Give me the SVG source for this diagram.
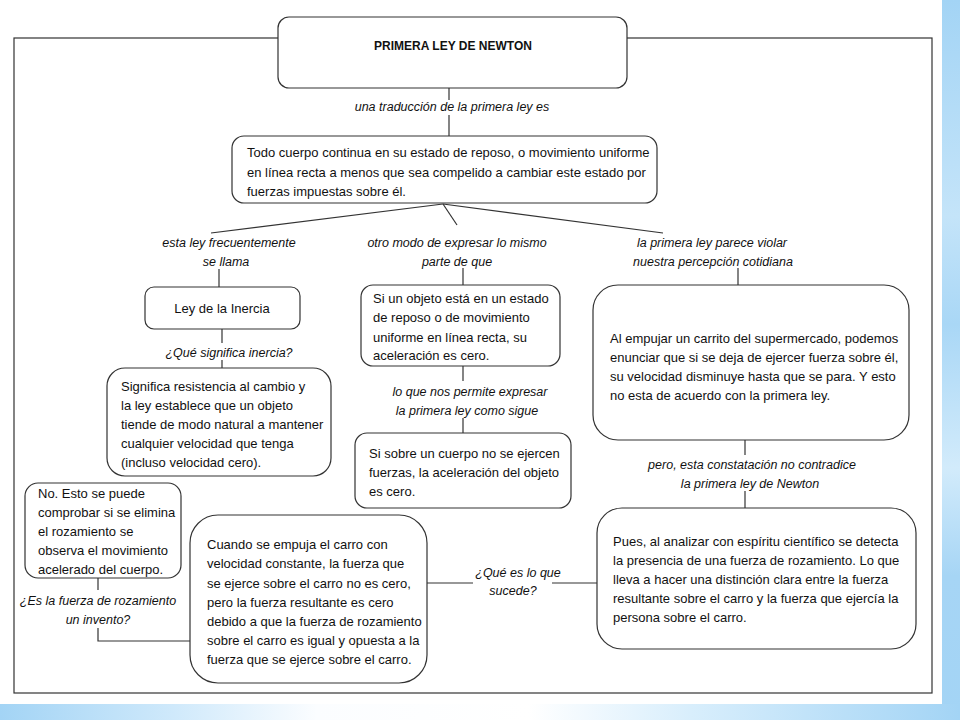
<svg xmlns="http://www.w3.org/2000/svg" width="960" height="720" viewBox="0 0 960 720">
<defs>
<linearGradient id="gR" x1="0" y1="0" x2="0" y2="1">
<stop offset="0" stop-color="#a3d4f5"/>
<stop offset="0.3" stop-color="#c4e4f9"/>
<stop offset="0.45" stop-color="#a9d7f6"/>
<stop offset="0.65" stop-color="#d2ebfb"/>
<stop offset="0.8" stop-color="#a6d5f5"/>
<stop offset="1" stop-color="#a3d4f5"/>
</linearGradient>
<linearGradient id="gB" x1="0" y1="0" x2="1" y2="0">
<stop offset="0" stop-color="#a3d4f5"/>
<stop offset="0.18" stop-color="#cfe9fb"/>
<stop offset="0.33" stop-color="#fbfdff"/>
<stop offset="0.55" stop-color="#ffffff"/>
<stop offset="0.72" stop-color="#d8eefc"/>
<stop offset="1" stop-color="#a3d4f5"/>
</linearGradient>
</defs>
<style>
.box{fill:#fff;stroke:#333;stroke-width:1.2}
.ln{fill:none;stroke:#333;stroke-width:1.2}
.t{font-family:"Liberation Sans",Arial,sans-serif;font-size:13px;fill:#111}
.l{font-family:"Liberation Sans",Arial,sans-serif;font-size:12.5px;font-style:italic;fill:#111;text-anchor:middle}
.h{font-family:"Liberation Sans",Arial,sans-serif;font-size:12px;font-weight:bold;fill:#111;text-anchor:middle}
.c{text-anchor:middle}
</style>
<rect x="0" y="0" width="960" height="720" fill="#fff"/>
<rect x="942" y="0" width="18" height="720" fill="url(#gR)"/>
<rect x="0" y="704" width="960" height="16" fill="url(#gB)"/>
<rect x="14" y="38" width="918" height="655" class="ln"/>

<g id="connectors">
<line x1="449" y1="88" x2="449" y2="100" class="ln"/>
<line x1="449" y1="115" x2="449" y2="136" class="ln"/>
<line x1="443" y1="204" x2="211" y2="233" class="ln"/>
<line x1="443" y1="204" x2="457" y2="225" class="ln"/>
<line x1="443" y1="204" x2="663" y2="233" class="ln"/>
<line x1="219" y1="269" x2="219" y2="287" class="ln"/>
<line x1="222" y1="329" x2="222" y2="343" class="ln"/>
<line x1="222" y1="360" x2="222" y2="368" class="ln"/>
<line x1="463" y1="268" x2="463" y2="285" class="ln"/>
<line x1="463" y1="366" x2="463" y2="381" class="ln"/>
<line x1="463" y1="418" x2="463" y2="433" class="ln"/>
<line x1="738" y1="268" x2="738" y2="285" class="ln"/>
<line x1="745" y1="440" x2="745" y2="455" class="ln"/>
<line x1="745" y1="491" x2="745" y2="508" class="ln"/>
<line x1="98" y1="578" x2="98" y2="590" class="ln"/>
<polyline points="98,628 98,641 190,641" class="ln"/>
<line x1="427" y1="583" x2="473" y2="583" class="ln"/>
<line x1="552" y1="583" x2="597" y2="583" class="ln"/>
<text class="l" x="452" y="111">una traducción de la primera ley es</text>
<text class="l" x="229" y="247">esta ley frecuentemente</text>
<text class="l" x="226" y="266">se llama</text>
<text class="l" x="457" y="247">otro modo de expresar lo mismo</text>
<text class="l" x="457" y="266">parte de que</text>
<text class="l" x="712" y="247">la primera ley parece violar</text>
<text class="l" x="713" y="266">nuestra percepción cotidiana</text>
<text class="l" x="229" y="357">¿Qué significa inercia?</text>
<text class="l" x="470" y="396">lo que nos permite expresar</text>
<text class="l" x="467" y="415">la primera ley como sigue</text>
<text class="l" x="752" y="469">pero, esta constatación no contradice</text>
<text class="l" x="750" y="488">la primera ley de Newton</text>
<text class="l" x="98" y="605">¿Es la fuerza de rozamiento</text>
<text class="l" x="98" y="624">un invento?</text>
<text class="l" x="518" y="577">¿Qué es lo que</text>
<text class="l" x="513" y="595">sucede?</text>
</g>

<g id="n-title">
<rect x="278" y="17" width="349" height="71" rx="11" class="box"/>
<text class="h" x="453" y="50">PRIMERA LEY DE NEWTON</text>
</g>

<g id="n-todo">
<rect x="232" y="136" width="425" height="67" rx="12" class="box"/>
<text class="t" x="247" y="157">Todo cuerpo continua en su estado de reposo, o movimiento uniforme</text>
<text class="t" x="247" y="177">en línea recta a menos que sea compelido a cambiar este estado  por</text>
<text class="t" x="247" y="196">fuerzas impuestas sobre él.</text>
</g>

<g id="n-ley">
<rect x="145" y="287" width="155" height="42" rx="9" class="box"/>
<text class="t c" x="222" y="313">Ley de la Inercia</text>
</g>

<g id="n-significa">
<rect x="107" y="368" width="224" height="108" rx="18" class="box"/>
<text class="t" x="121" y="391">Significa resistencia al cambio y</text>
<text class="t" x="121" y="410">la ley establece que un objeto</text>
<text class="t" x="121" y="429">tiende de modo natural a mantener</text>
<text class="t" x="121" y="448">cualquier velocidad que tenga</text>
<text class="t" x="121" y="467">(incluso velocidad cero).</text>
</g>

<g id="n-siun">
<rect x="361" y="285" width="199" height="81" rx="12" class="box"/>
<text class="t" x="373" y="303">Si un objeto está en un estado</text>
<text class="t" x="373" y="322">de reposo o de movimiento</text>
<text class="t" x="373" y="342">uniforme en línea recta, su</text>
<text class="t" x="373" y="360">aceleración es cero.</text>
</g>

<g id="n-sisobre">
<rect x="355" y="433" width="216" height="75" rx="12" class="box"/>
<text class="t" x="369" y="458">Si sobre un cuerpo no se ejercen</text>
<text class="t" x="369" y="477">fuerzas, la aceleración del objeto</text>
<text class="t" x="369" y="496">es cero.</text>
</g>

<g id="n-empujar">
<rect x="593" y="285" width="316" height="155" rx="25" class="box"/>
<text class="t" x="610" y="343">Al empujar un carrito del supermercado, podemos</text>
<text class="t" x="610" y="362">enunciar que si se deja de ejercer fuerza sobre él,</text>
<text class="t" x="610" y="381">su velocidad disminuye hasta que se para. Y esto</text>
<text class="t" x="610" y="400">no esta de acuerdo con la primera ley.</text>
</g>

<g id="n-pues">
<rect x="597" y="508" width="319" height="141" rx="25" class="box"/>
<text class="t" x="613" y="546">Pues, al analizar con espíritu científico se detecta</text>
<text class="t" x="613" y="565">la presencia de una fuerza de rozamiento. Lo que</text>
<text class="t" x="613" y="584">lleva a hacer una distinción clara entre la fuerza</text>
<text class="t" x="613" y="603">resultante sobre el carro y la fuerza que ejercía la</text>
<text class="t" x="613" y="622">persona  sobre el carro.</text>
</g>

<g id="n-no">
<rect x="25" y="483" width="156" height="95" rx="13" class="box"/>
<text class="t" x="38" y="498">No. Esto se puede</text>
<text class="t" x="38" y="517">comprobar si se elimina</text>
<text class="t" x="38" y="536">el rozamiento se</text>
<text class="t" x="38" y="555">observa el movimiento</text>
<text class="t" x="38" y="574">acelerado del cuerpo.</text>
</g>

<g id="n-cuando">
<rect x="190" y="515" width="237" height="168" rx="28" class="box"/>
<text class="t" x="207" y="549">Cuando se empuja el carro con</text>
<text class="t" x="207" y="568">velocidad constante, la fuerza que</text>
<text class="t" x="207" y="588">se ejerce sobre el carro no es cero,</text>
<text class="t" x="207" y="607">pero la fuerza resultante es cero</text>
<text class="t" x="207" y="626">debido a que la fuerza de rozamiento</text>
<text class="t" x="207" y="645">sobre el carro es igual y opuesta a la</text>
<text class="t" x="207" y="664">fuerza que se ejerce sobre el carro.</text>
</g>
</svg>
